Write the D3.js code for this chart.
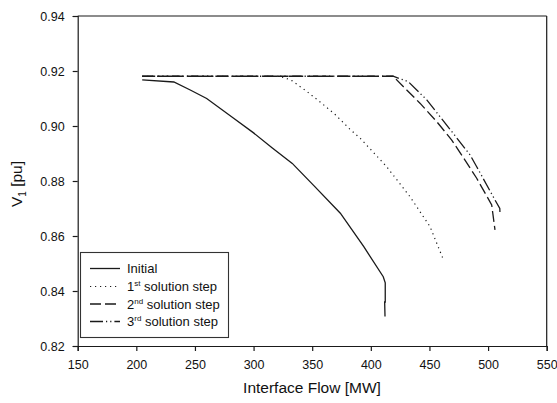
<!DOCTYPE html>
<html><head><meta charset="utf-8">
<script src="https://cdn.jsdelivr.net/npm/d3@7"></script>
<style>body{margin:0;background:#fff}svg{display:block;font-family:"Liberation Sans",Arial,sans-serif}</style>
</head><body><svg id="c" width="557" height="403"></svg>
<script>
const xTicks = [150,200,250,300,350,400,450,500,550];
const yTicks = [0.82,0.84,0.86,0.88,0.90,0.92,0.94];
const seriesNames = ["Initial","1st solution step","2nd solution step","3rd solution step"];
const initialData = [[205,0.9168],[232,0.9160],[246,0.9131],[260,0.9100],[283,0.9028],[300,0.8975],[316,0.8920],[333,0.8864],[351,0.8785],[374,0.8683],[394,0.8561],[410.6,0.8452],[412.3,0.8430],[412.3,0.8360],[411.8,0.8360],[412.1,0.8307]];
const step1Data = [[205,0.9181],[322,0.9181],[328,0.9173],[333,0.9164],[345,0.9127],[357.5,0.9085],[370,0.9040],[382,0.8989],[391,0.8955],[398.5,0.8921],[413.5,0.8852],[433.4,0.8743],[450.5,0.8634],[461.8,0.8515]];
const step2Data = [[205,0.9181],[419,0.9181],[430.6,0.9131],[441.9,0.9083],[456.2,0.9016],[469,0.8949],[480.3,0.8876],[490.3,0.8810],[503.1,0.8713],[505.9,0.8622]];
const step3Data = [[205,0.9181],[419,0.9181],[432,0.9161],[447.7,0.9095],[470.3,0.8973],[484.6,0.8895],[490.3,0.8852],[505.9,0.8731],[510,0.8700],[510.2,0.8676]];

const svg = d3.select("#c");
const L=77.7, R=546.7, T=16, B=346;
const x = d3.scaleLinear().domain([150,550]).range([L,R]);
const y = d3.scaleLinear().domain([0.82,0.94]).range([B,T]);
const ink = "#1a1a1a";

// frame
svg.append("line").attr("x1",L).attr("x2",R).attr("y1",T).attr("y2",T).attr("stroke",ink).attr("stroke-width",1.2);
svg.append("line").attr("x1",R).attr("x2",R).attr("y1",T).attr("y2",B).attr("stroke",ink).attr("stroke-width",1.2);

const xa = svg.append("g").attr("transform",`translate(0,${B})`)
  .call(d3.axisBottom(x).tickValues(xTicks).tickFormat(d3.format("d")).tickSize(5).tickPadding(9.5));
const ya = svg.append("g").attr("transform",`translate(${L},0)`)
  .call(d3.axisLeft(y).tickValues(yTicks).tickFormat(d3.format(".2f")).tickSize(5).tickPadding(8));
[xa,ya].forEach(a=>{
  a.selectAll("path").attr("stroke",ink).attr("stroke-width",1.2);
  a.selectAll("line").attr("stroke",ink).attr("stroke-width",1.2);
  a.selectAll("text").attr("fill","#111").style("font-size","12.5px").style("font-family","'Liberation Sans',Arial,sans-serif");
});

// axis titles
svg.append("text").attr("x",312).attr("y",392.5).attr("text-anchor","middle")
  .style("font-size","15.5px").attr("fill","#111").text("Interface Flow [MW]");
const yl = svg.append("text").attr("transform","translate(22,184) rotate(-90)").attr("text-anchor","middle")
  .style("font-size","15.5px").attr("fill","#111");
yl.append("tspan").text("V");
yl.append("tspan").attr("dy",4).style("font-size","10px").text("1");
yl.append("tspan").attr("dy",-4).text(" [pu]");

const line = d3.line().x(d=>x(d[0])).y(d=>y(d[1]));
const styles = [
  {data:initialData, dash:null, w:1.3},
  {data:step1Data, dash:"1.2,3.8", w:1.2},
  {data:step2Data, dash:"11,4", w:1.3},
  {data:step3Data, dash:"13,3,1.2,3,1.2,3", w:1.3}
];
styles.forEach(s=>{
  svg.append("path").datum(s.data).attr("d",line).attr("fill","none")
    .attr("stroke",ink).attr("stroke-width",s.w).attr("stroke-dasharray",s.dash);
});

// legend
const lg = svg.append("g");
lg.append("rect").attr("x",80.5).attr("y",252.5).attr("width",148).attr("height",85)
  .attr("fill","#fff").attr("stroke","#333").attr("stroke-width",1.1);
const rowY = [268.5,286.5,304,321.5];
const sups = [null,["1","st"],["2","nd"],["3","rd"]];
styles.forEach((s,i)=>{
  lg.append("line").attr("x1",90).attr("x2",120).attr("y1",rowY[i]).attr("y2",rowY[i])
    .attr("stroke",ink).attr("stroke-width",s.w).attr("stroke-dasharray",s.dash);
  const t = lg.append("text").attr("x",127).attr("y",rowY[i]+4.5).style("font-size","13px").attr("fill","#111");
  if(!sups[i]) t.text(seriesNames[i]);
  else {
    t.append("tspan").text(sups[i][0]);
    t.append("tspan").attr("dy",-5).style("font-size","8px").text(sups[i][1]);
    t.append("tspan").attr("dy",5).text(seriesNames[i].replace(/^\d\w\w/,""));
  }
});
</script></body></html>
